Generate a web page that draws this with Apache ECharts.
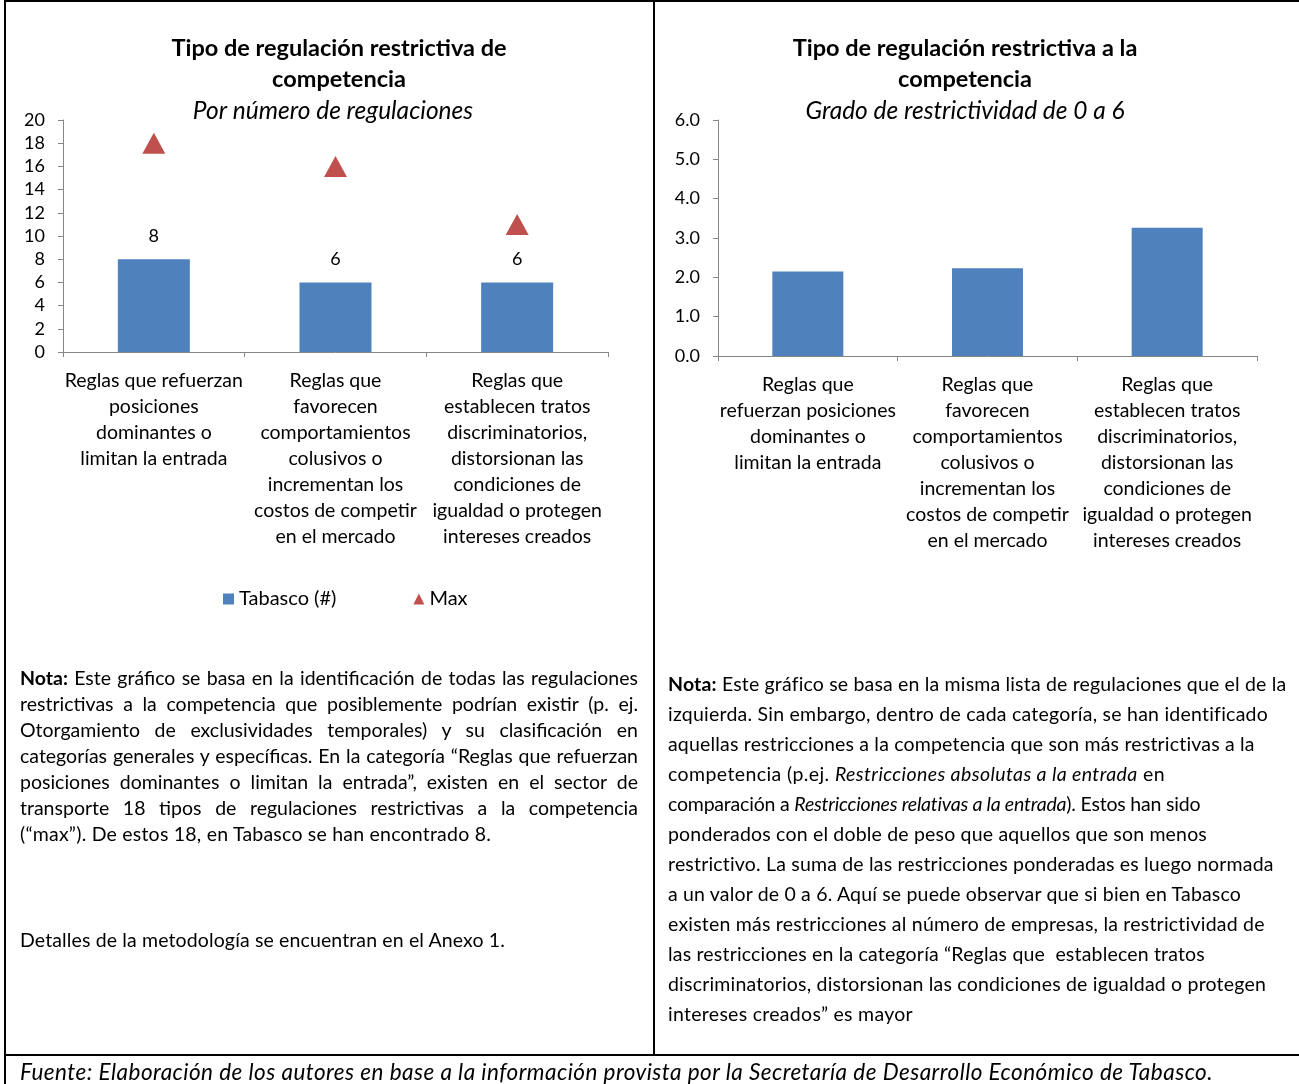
<!DOCTYPE html>
<html>
<head>
<meta charset="utf-8">
<script src="https://cdn.jsdelivr.net/npm/echarts@6/dist/echarts.min.js"></script>
<style>
  html, body { margin:0; padding:0; background:#fff; }
  body { width:1299px; height:1084px; position:relative; overflow:hidden; font-family: Lato, "Open Sans", sans-serif; color:#000; }
  #chart { position:absolute; left:0; top:0; width:1299px; height:1084px; }
  .line { position:absolute; background:#000; }
  .note { position:absolute; font-size:19.5px; }
  .note div { white-space:pre; }
  .just div { text-align:justify; text-align-last:justify; white-space:normal; }
  .just div.last { text-align-last:left; }
</style>
</head>
<body>
<div id="chart"></div>
<div class="line" style="left:4px;top:0;width:1295px;height:2px"></div>
<div class="line" style="left:4px;top:0;width:2px;height:1084px"></div>
<div class="line" style="left:653px;top:0;width:2px;height:1055px"></div>
<div class="line" style="left:4px;top:1054px;width:1295px;height:2px"></div>

<div class="note just" style="left:20px;top:665px;width:618px;line-height:26px">
  <div><b>Nota:</b> Este gráfico se basa en la identificación de todas las regulaciones</div>
  <div>restrictivas a la competencia que posiblemente podrían existir (p. ej.</div>
  <div>Otorgamiento de exclusividades temporales) y su clasificación en</div>
  <div>categorías generales y específicas. En la categoría “Reglas que refuerzan</div>
  <div>posiciones dominantes o limitan la entrada”, existen en el sector de</div>
  <div>transporte 18 tipos de regulaciones restrictivas a la competencia</div>
  <div class="last" data-w="471">(“max”). De estos 18, en Tabasco se han encontrado 8.</div>
</div>
<div class="note" style="left:20px;top:927px;line-height:26px">
  <div data-w="485">Detalles de la metodología se encuentran en el Anexo 1.</div>
</div>
<div class="note" style="left:668px;top:669px;line-height:30px">
  <div data-w="618"><b>Nota:</b> Este gráfico se basa en la misma lista de regulaciones que el de la</div>
  <div data-w="600">izquierda. Sin embargo, dentro de cada categoría, se han identificado</div>
  <div data-w="587">aquellas restricciones a la competencia que son más restrictivas a la</div>
  <div data-w="497">competencia (p.ej. <i>Restricciones absolutas a la entrada</i> en</div>
  <div data-w="532">comparación a <i>Restricciones relativas a la entrada</i>). Estos han sido</div>
  <div data-w="539">ponderados con el doble de peso que aquellos que son menos</div>
  <div data-w="606">restrictivo. La suma de las restricciones ponderadas es luego normada</div>
  <div data-w="573">a un valor de 0 a 6. Aquí se puede observar que si bien en Tabasco</div>
  <div data-w="597">existen más restricciones al número de empresas, la restrictividad de</div>
  <div data-w="537">las restricciones en la categoría “Reglas que  establecen tratos</div>
  <div data-w="598">discriminatorios, distorsionan las condiciones de igualdad o protegen</div>
  <div data-w="245">intereses creados” es mayor</div>
</div>
<div class="note" style="left:20px;top:1058px;line-height:28px;font-size:22.5px;font-style:italic">
  <div data-w="1193">Fuente: Elaboración de los autores en base a la información provista por la Secretaría de Desarrollo Económico de Tabasco.</div>
</div>

<script>
// ---- data ----
var categoriesLeft = [
  'Reglas que refuerzan\nposiciones\ndominantes o\nlimitan la entrada',
  'Reglas que\nfavorecen\ncomportamientos\ncolusivos o\nincrementan los\ncostos de competir\nen el mercado',
  'Reglas que\nestablecen tratos\ndiscriminatorios,\ndistorsionan las\ncondiciones de\nigualdad o protegen\nintereses creados'
];
var categoriesRight = [
  'Reglas que\nrefuerzan posiciones\ndominantes o\nlimitan la entrada',
  'Reglas que\nfavorecen\ncomportamientos\ncolusivos o\nincrementan los\ncostos de competir\nen el mercado',
  'Reglas que\nestablecen tratos\ndiscriminatorios,\ndistorsionan las\ncondiciones de\nigualdad o protegen\nintereses creados'
];
var tabascoCount = [8, 6, 6];
var maxCount = [18, 16, 11];
var restrictividad = [2.15, 2.23, 3.26];
var leftTicks = { min: 0, max: 20, interval: 2 };
var rightTicks = { min: 0, max: 6, interval: 1 };

var FONT = 'Lato, "Open Sans", sans-serif';
var AXIS_COLOR = '#868686';
var BAR_COLOR = '#4F81BD';
var MAX_COLOR = '#C0504D';

// fit note lines to the measured widths with letter spacing
function naturalWidth(el) {
  var s = document.createElement('span');
  s.style.whiteSpace = 'pre';
  s.style.letterSpacing = '0px';
  s.innerHTML = el.innerHTML;
  el.parentNode.appendChild(s);
  var w = s.getBoundingClientRect().width;
  el.parentNode.removeChild(s);
  return w;
}
function fitNotes() {
  document.querySelectorAll('.note div[data-w]').forEach(function (el) {
    var target = parseFloat(el.getAttribute('data-w'));
    var w = naturalWidth(el);
    var n = el.textContent.length;
    el.style.letterSpacing = ((target - w) / n) + 'px';
  });
  document.querySelectorAll('.just div:not(.last)').forEach(function (el) {
    var w = naturalWidth(el);
    if (w > 616) {
      el.style.letterSpacing = ((614 - w) / el.textContent.length) + 'px';
    }
  });
}
fitNotes();

var chart = echarts.init(document.getElementById('chart'));

function xAxisDef(idx, cats) {
  return {
    type: 'category', gridIndex: idx, data: cats,
    axisLine: { lineStyle: { color: AXIS_COLOR, width: 1 } },
    axisTick: { show: true, length: 5, lineStyle: { color: AXIS_COLOR } },
    axisLabel: { interval: 0, color: '#000', fontFamily: FONT, fontSize: 19.5, lineHeight: 26, margin: 16 }
  };
}
function yAxisDef(idx, t, fmt, margin) {
  return {
    type: 'value', gridIndex: idx, min: t.min, max: t.max, interval: t.interval,
    splitLine: { show: false },
    axisLine: { show: true, lineStyle: { color: AXIS_COLOR, width: 1 } },
    axisTick: { show: true, length: 5, lineStyle: { color: AXIS_COLOR } },
    axisLabel: { color: '#000', fontFamily: FONT, fontSize: 18, margin: margin, formatter: fmt }
  };
}

chart.setOption({
  animation: false,
  textStyle: { fontFamily: FONT },
  title: [
    { text: 'Tipo de regulación restrictiva de\ncompetencia', left: 339, top: 33, padding: 0, textAlign: 'center',
      textStyle: { fontFamily: FONT, fontSize: 23.5, fontWeight: 'bold', color: '#000', lineHeight: 31 } },
    { text: 'Por número de regulaciones', left: 333, top: 99, padding: 0, textAlign: 'center',
      textStyle: { fontFamily: FONT, fontSize: 24.5, fontWeight: 'normal', fontStyle: 'italic', color: '#000', lineHeight: 24 } },
    { text: 'Tipo de regulación restrictiva a la\ncompetencia', left: 965, top: 33, padding: 0, textAlign: 'center',
      textStyle: { fontFamily: FONT, fontSize: 23.5, fontWeight: 'bold', color: '#000', lineHeight: 31 } },
    { text: 'Grado de restrictividad de 0 a 6', left: 965, top: 99, padding: 0, textAlign: 'center',
      textStyle: { fontFamily: FONT, fontSize: 24.5, fontWeight: 'normal', fontStyle: 'italic', color: '#000', lineHeight: 24 } }
  ],
  legend: {
    left: 223, top: 589, padding: 0, itemWidth: 11, itemHeight: 11, itemGap: 77,
    textStyle: { fontFamily: FONT, fontSize: 20, color: '#000' },
    data: [
      { name: 'Tabasco (#)', icon: 'rect' },
      { name: 'Max', icon: 'triangle' }
    ]
  },
  grid: [
    { left: 63, top: 120, width: 545, height: 232 },
    { left: 718, top: 120, width: 539, height: 236 }
  ],
  xAxis: [ xAxisDef(0, categoriesLeft), xAxisDef(1, categoriesRight) ],
  yAxis: [
    yAxisDef(0, leftTicks, null, 18),
    yAxisDef(1, rightTicks, function (v) { return v.toFixed(1); }, 18)
  ],
  series: [
    { name: 'Tabasco (#)', type: 'bar', xAxisIndex: 0, yAxisIndex: 0, data: tabascoCount,
      barWidth: 72, itemStyle: { color: BAR_COLOR },
      label: { show: true, position: 'top', distance: 14, color: '#000', fontFamily: FONT, fontSize: 18 } },
    { name: 'Max', type: 'scatter', xAxisIndex: 0, yAxisIndex: 0, data: maxCount,
      symbol: 'triangle', symbolSize: [23, 21], itemStyle: { color: MAX_COLOR, opacity: 1 }, z: 5 },
    { name: 'Restrictividad', type: 'bar', xAxisIndex: 1, yAxisIndex: 1, data: restrictividad,
      barWidth: 71, itemStyle: { color: BAR_COLOR } }
  ]
});
</script>
</body>
</html>
